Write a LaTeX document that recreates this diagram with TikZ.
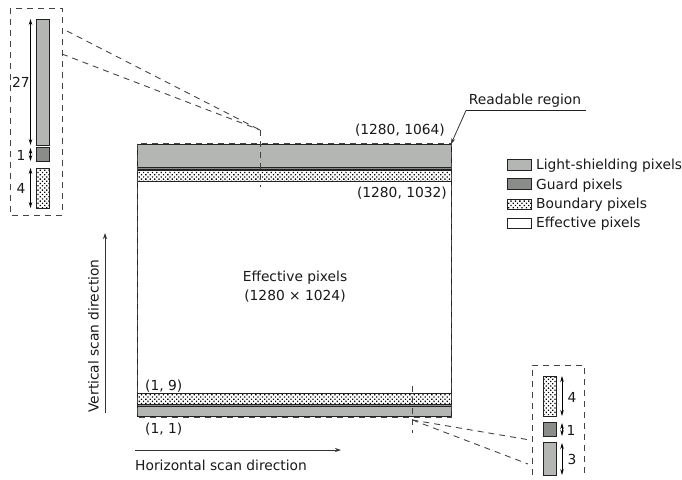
\documentclass[tikz,border=0pt]{standalone}
\usepackage{fontspec}
\setmainfont{DejaVu Sans}[Scale=1]
\usetikzlibrary{arrows.meta,patterns}
\pgfdeclarepatternformonly{dotsb}{\pgfqpoint{-1pt}{-1pt}}{\pgfqpoint{3.4pt}{3.4pt}}{\pgfqpoint{4.4pt}{4.4pt}}{
  \pgfpathrectangle{\pgfqpoint{0pt}{0pt}}{\pgfqpoint{1.3pt}{1.3pt}}
  \pgfpathrectangle{\pgfqpoint{2.2pt}{2.2pt}}{\pgfqpoint{1.3pt}{1.3pt}}
  \pgfusepath{fill}}
\definecolor{lightbar}{HTML}{B4B6B4}
\definecolor{guardbar}{HTML}{8A8C8A}
\definecolor{lineink}{HTML}{222222}
\definecolor{dashink}{HTML}{444444}
\tikzset{
  x=1pt,y=-1pt,
  barbase/.style={draw=lineink,line width=0.8pt,inner sep=0pt,outer sep=0pt,anchor=north west},
  lightb/.style={barbase,fill=lightbar},
  guardb/.style={barbase,fill=guardbar},
  boundb/.style={barbase,pattern=dotsb,pattern color=black},
  effb/.style={barbase,fill=white},
  dashb/.style={draw=dashink,line width=0.9pt,dash pattern=on 6pt off 5pt},
  dim/.style={draw=black,line width=0.7pt,{Stealth[length=6pt,width=3.5pt]}-{Stealth[length=6pt,width=3.5pt]}},
  scanarrow/.style={draw=black!80,line width=0.8pt,-{Stealth[length=6pt,width=4pt]}},
  txt/.style={font=\fontsize{13.8}{16}\selectfont,inner sep=0pt,text=black!90},
}
\begin{document}
\begin{tikzpicture}
\useasboundingbox (0,0) rectangle (682,479);
% main frame
\node[effb,minimum width=314pt,minimum height=272pt] (frame) at (137,144) {};
\node[lightb,minimum width=314pt,minimum height=23pt] (topl) at (137,144) {};
\node[guardb,minimum width=314pt,minimum height=2pt] (topg) at (137,167) {};
\node[boundb,minimum width=314pt,minimum height=11pt] (topb) at (137,170) {};
\node[boundb,minimum width=314pt,minimum height=11pt] (botb) at (137,393) {};
\node[guardb,minimum width=314pt,minimum height=2pt] (botg) at (137,404) {};
\node[lightb,minimum width=314pt,minimum height=10pt] (botl) at (137,406) {};
\coordinate (fa) at (137.5,143.5);\coordinate (fb) at (451.5,417);
\draw[dashb] (fa) rectangle (fb);
% top-left detail
\draw[dashb] (10,8) rectangle (62,215);
\node[lightb,minimum width=13pt,minimum height=126pt] (a1) at (36,19) {};
\node[guardb,minimum width=13pt,minimum height=14pt] (a2) at (36,147.5) {};
\node[boundb,minimum width=13pt,minimum height=40pt] (a3) at (36,168) {};
\coordinate (a1t) at (30.5,19);\coordinate (a1b) at (30.5,145);
\coordinate (a2t) at (30.5,148);\coordinate (a2b) at (30.5,161);
\coordinate (a3t) at (30.5,168);\coordinate (a3b) at (30.5,208);
\draw[dim] (a1t) -- (a1b);
\draw[dim] (a2t) -- (a2b);
\draw[dim] (a3t) -- (a3b);
\node[txt] (n27) at (21,82) {27};
\node[txt] (n1a) at (21,155) {1};
\node[txt] (n4a) at (21,188) {4};
\coordinate (zt) at (260,130);\coordinate (zb) at (260,187);
\coordinate (z1) at (67,31);\coordinate (z2) at (62,54);
\draw[dashb] (zt) -- (zb);
\draw[dashb] (z1) -- (zt);
\draw[dashb] (z2) -- (zt);
% bottom-right detail
\coordinate (c1) at (532,475);\coordinate (c2) at (532,365);\coordinate (c3) at (584,365);\coordinate (c4) at (584,475);
\draw[dashb] (c1) -- (c2) -- (c3) -- (c4);
\node[boundb,minimum width=13pt,minimum height=40pt] (b1) at (543,376) {};
\node[guardb,minimum width=13pt,minimum height=14pt] (b2) at (543,422) {};
\node[lightb,minimum width=13pt,minimum height=33pt] (b3) at (543,442) {};
\coordinate (b1t) at (562,376);\coordinate (b1b) at (562,416);
\coordinate (b2t) at (562,423);\coordinate (b2b) at (562,436);
\coordinate (b3t) at (562,443);\coordinate (b3b) at (562,475);
\draw[dim] (b1t) -- (b1b);
\draw[dim] (b2t) -- (b2b);
\draw[dim] (b3t) -- (b3b);
\node[txt] (n4b) at (572,397) {4};
\node[txt] (n1b) at (571,430) {1};
\node[txt] (n3b) at (572,459) {3};
\coordinate (yt) at (412.5,386);\coordinate (yb) at (412.5,433);\coordinate (ym) at (412.5,420);
\coordinate (y1) at (530,440);\coordinate (y2) at (528,464);
\draw[dashb] (yt) -- (yb);
\draw[dashb] (ym) -- (y1);
\draw[dashb] (ym) -- (y2);
% readable region
\node[txt,anchor=base] (rr) at (525,104) {Readable region};
\coordinate (r1) at (586,110.5);\coordinate (r2) at (466,110.5);
\draw[draw=lineink,line width=0.7pt] (r1) -- (r2);
\draw[scanarrow] (r2) -- (frame.north east);
% coordinates
\node[txt,anchor=base east] (p1) at (445,134) {(1280, 1064)};
\node[txt,anchor=base east] (p2) at (447,197) {(1280, 1032)};
\node[txt,anchor=base west] (p3) at (145,390) {(1, 9)};
\node[txt,anchor=base west] (p4) at (145,433) {(1, 1)};
\node[txt,anchor=base] (e1) at (295,281) {Effective pixels};
\node[txt,anchor=base] (e2) at (295,300) {(1280 × 1024)};
% legend
\node[lightb,minimum width=24pt,minimum height=11pt] (l1) at (507,159.5) {};
\node[guardb,minimum width=24pt,minimum height=11pt] (l2) at (507,178.5) {};
\node[boundb,minimum width=24pt,minimum height=10pt] (l3) at (507,199) {};
\node[effb,minimum width=24pt,minimum height=10pt] (l4) at (507,218.5) {};
\node[txt,anchor=base west] (t1) at (536,169) {Light-shielding pixels};
\node[txt,anchor=base west] (t2) at (536,189) {Guard pixels};
\node[txt,anchor=base west] (t3) at (536,208) {Boundary pixels};
\node[txt,anchor=base west] (t4) at (536,227) {Effective pixels};
% scan directions
\coordinate (v1) at (105,413);\coordinate (v2) at (105,233);
\draw[scanarrow] (v1) -- (v2);
\node[txt,rotate=90,anchor=base] (vt) at (98.5,336) {Vertical scan direction};
\coordinate (h1) at (135,450);\coordinate (h2) at (341,450);
\draw[scanarrow] (h1) -- (h2);
\node[txt,anchor=base west] (ht) at (135,470) {Horizontal scan direction};
\end{tikzpicture}
\end{document}
